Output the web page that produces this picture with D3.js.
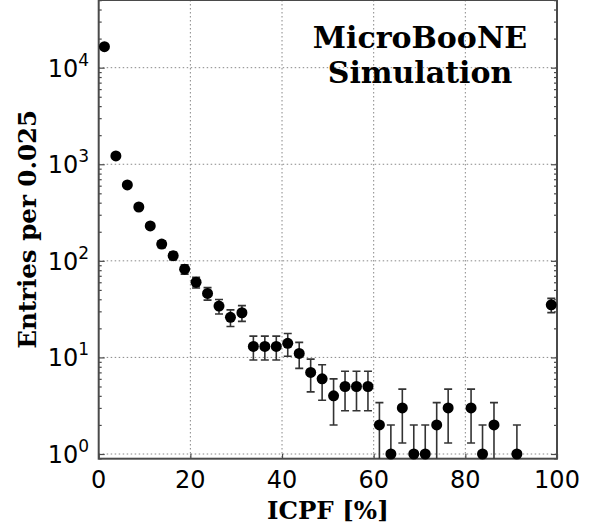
<!DOCTYPE html>
<html>
<head>
<meta charset="utf-8">
<script src="https://cdn.jsdelivr.net/npm/d3@7"></script>
<style>
  html, body { margin: 0; padding: 0; background: #fff; }
  svg { display: block; }
</style>
</head>
<body>
<svg id="chart" width="595" height="529"></svg>
<script>
// ---- data ----
const binCenters = [1.25, 3.75, 6.25, 8.75, 11.25, 13.75, 16.25, 18.75, 21.25, 23.75,
  26.25, 28.75, 31.25, 33.75, 36.25, 38.75, 41.25, 43.75, 46.25, 48.75,
  51.25, 53.75, 56.25, 58.75, 61.25, 63.75, 66.25, 68.75, 71.25, 73.75,
  76.25, 81.25, 83.75, 86.25, 91.25, 98.75];
const entries = [16500, 1220, 611, 361, 230, 149, 113, 82, 60, 46,
  34, 26, 29, 13, 13, 13, 14, 11, 7, 6,
  4, 5, 5, 5, 2, 1, 3, 1, 1, 2,
  3, 3, 1, 2, 1, 35];
const errors = [128, 35, 24.7, 19, 15.2, 12.2, 10.6, 9.1, 7.7, 6.8,
  5.8, 5.1, 5.4, 3.6, 3.6, 3.6, 3.7, 3.3, 2.6, 2.4,
  2.0, 2.2, 2.2, 2.2, 1.4, 1.0, 1.7, 1.0, 1.0, 1.4,
  1.7, 1.7, 1.0, 1.4, 1.0, 5.9];
const xTicks = [0, 20, 40, 60, 80, 100];
const yTickExps = [0, 1, 2, 3, 4];
const xTitle = "ICPF [%]";
const yTitle = "Entries per 0.025";
const labelLines = ["MicroBooNE", "Simulation"];

// ---- layout ----
const svg = d3.select("#chart");
const L = 98.7, R = 557, T = 0, B = 458.7;
const x = d3.scaleLinear().domain([0, 100]).range([L, R]);
const y = d3.scaleLog().domain([0.894, 50200]).range([B, T]);

const frameColor = "#4a4a4a";
const gridColor = "#888";

svg.append("rect").attr("width", 595).attr("height", 529).attr("fill", "#fff");

svg.append("defs").append("clipPath").attr("id", "plotclip")
  .append("rect").attr("x", L).attr("y", T).attr("width", R - L).attr("height", B - T);

// grid
const grid = svg.append("g").attr("stroke", gridColor).attr("stroke-width", 1)
  .attr("stroke-dasharray", "1.5,2.5").attr("fill", "none");
xTicks.filter(v => v > 0 && v < 100).forEach(v => {
  grid.append("line").attr("x1", x(v)).attr("x2", x(v)).attr("y1", T).attr("y2", B);
});
yTickExps.forEach(e => {
  const v = Math.pow(10, e);
  grid.append("line").attr("x1", L).attr("x2", R).attr("y1", y(v)).attr("y2", y(v));
});

// ticks (inward) via d3 axes
const yMajor = yTickExps.map(e => Math.pow(10, e));
const yMinor = [];
for (let e = -1; e <= 4; e++) for (let m = 2; m <= 9; m++) {
  const v = m * Math.pow(10, e);
  if (v >= 0.894 && v <= 50200) yMinor.push(v);
}
function tickAxis(axis, tickVals, len, transform) {
  const g = svg.append("g").attr("transform", transform)
    .call(axis.tickValues(tickVals).tickSize(len).tickFormat(""));
  g.select(".domain").remove();
  g.selectAll("line").attr("stroke", frameColor).attr("stroke-width", 1.2);
  return g;
}
tickAxis(d3.axisRight(y), yMajor, 6, `translate(${L},0)`);
tickAxis(d3.axisRight(y), yMinor, 3, `translate(${L},0)`);
tickAxis(d3.axisLeft(y), yMajor, 6, `translate(${R},0)`);
tickAxis(d3.axisLeft(y), yMinor, 3, `translate(${R},0)`);
tickAxis(d3.axisTop(x), xTicks, 5, `translate(0,${B})`);

// frame
svg.append("rect").attr("x", L).attr("y", T).attr("width", R - L).attr("height", B - T)
  .attr("fill", "none").attr("stroke", frameColor).attr("stroke-width", 2);

// tick labels
const tickFont = "'DejaVu Sans', sans-serif";
const xl = svg.append("g").attr("font-family", tickFont).attr("font-size", 24).attr("fill", "#000");
xTicks.forEach(v => {
  xl.append("text").attr("x", x(v)).attr("y", 488).attr("text-anchor", "middle").text(v);
});
const yl = svg.append("g").attr("font-family", tickFont).attr("fill", "#000");
yTickExps.forEach(e => {
  const t = yl.append("text").attr("x", 89).attr("y", y(Math.pow(10, e)) + 9)
    .attr("text-anchor", "end").attr("font-size", 24);
  t.append("tspan").text("10");
  t.append("tspan").attr("font-size", 17).attr("dy", -11).text(e);
});

// axis titles
const serif = "'DejaVu Serif', serif";
svg.append("text").attr("x", (L + R) / 2).attr("y", 519).attr("text-anchor", "middle")
  .attr("font-family", serif).attr("font-weight", "bold").attr("font-size", 24.5)
  .attr("fill", "#000").text(xTitle);
svg.append("text").attr("transform", `translate(36,${(T + B) / 2}) rotate(-90)`)
  .attr("text-anchor", "middle").attr("font-family", serif).attr("font-weight", "bold")
  .attr("font-size", 24.5).attr("fill", "#000").text(yTitle);

// label
labelLines.forEach((s, i) => {
  svg.append("text").attr("x", 420).attr("y", 48 + i * 35).attr("text-anchor", "middle")
    .attr("font-family", serif).attr("font-weight", "bold").attr("font-size", 30)
    .attr("fill", "#000").text(s);
});

// data
const data = binCenters.map((c, i) => ({ x: c, v: entries[i], e: errors[i] }));
const plot = svg.append("g").attr("clip-path", "url(#plotclip)");
const eb = plot.append("g").attr("stroke", "#333").attr("stroke-width", 1.6).attr("fill", "none");
const yLo = d => y(Math.max(d.v - d.e, 0.894));
const yHi = d => y(d.v + d.e);
eb.selectAll("line.v").data(data).join("line").attr("class", "v")
  .attr("x1", d => x(d.x)).attr("x2", d => x(d.x)).attr("y1", yLo).attr("y2", yHi);
eb.selectAll("line.t").data(data).join("line").attr("class", "t")
  .attr("x1", d => x(d.x) - 4).attr("x2", d => x(d.x) + 4).attr("y1", yHi).attr("y2", yHi);
eb.selectAll("line.b").data(data.filter(d => d.v - d.e > 0.894)).join("line").attr("class", "b")
  .attr("x1", d => x(d.x) - 4).attr("x2", d => x(d.x) + 4).attr("y1", yLo).attr("y2", yLo);

svg.append("g").selectAll("circle").data(data).join("circle")
  .attr("cx", d => x(d.x)).attr("cy", d => y(d.v)).attr("r", 5.5).attr("fill", "#000");
</script>
</body>
</html>
